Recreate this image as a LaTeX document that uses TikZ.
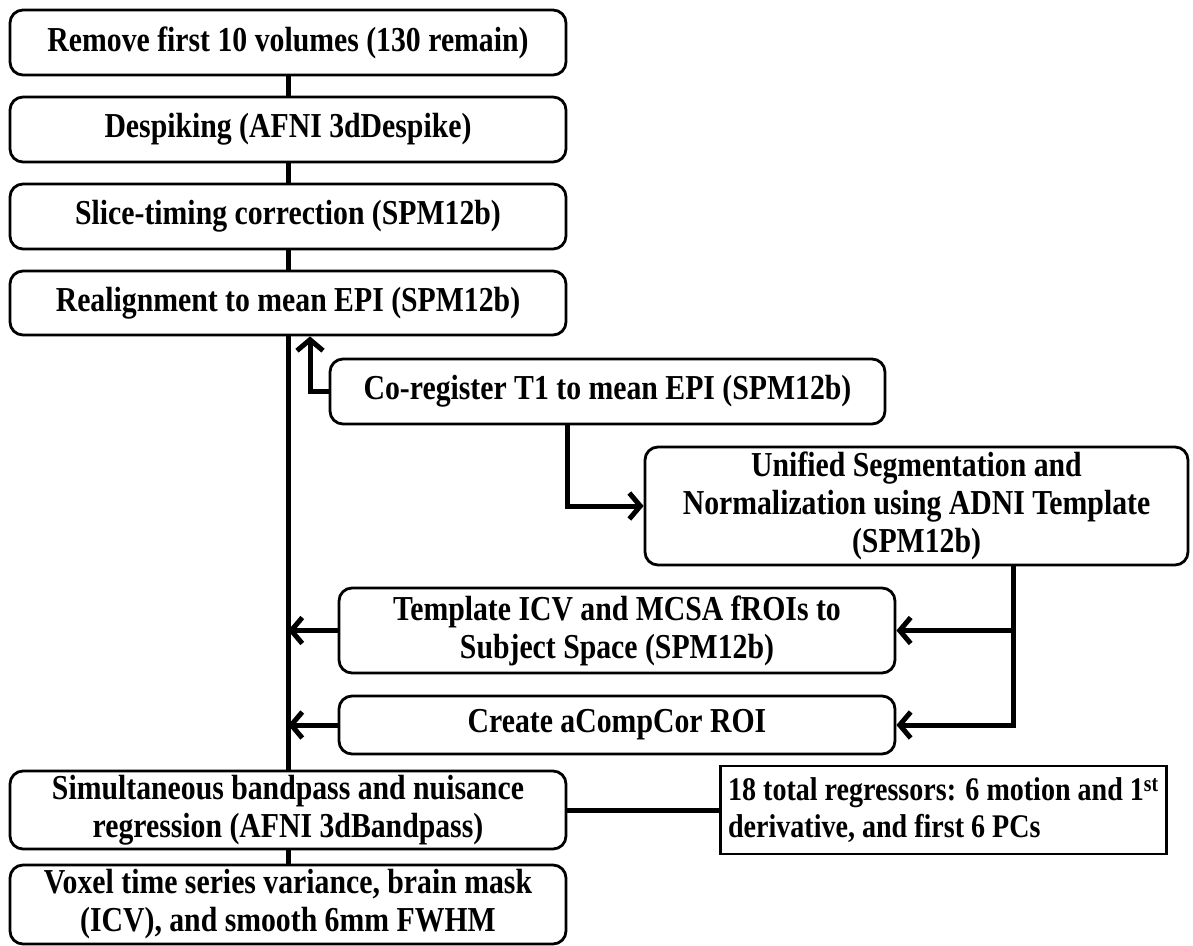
\documentclass[tikz,border=0pt]{standalone}
\usepackage{fontspec}
\setmainfont{Liberation Serif}[FakeStretch=0.85]
\usetikzlibrary{arrows.meta}

\tikzset{
	proc/.style={draw, line width=2.8pt, rounded corners=13pt, align=center, inner sep=4pt,
		font=\fontsize{35}{38}\selectfont\bfseries},
	note/.style={draw, line width=2.8pt, align=left, inner sep=8pt,
		font=\fontsize{33}{37}\selectfont\bfseries},
	link/.style={line width=5pt},
	flow/.style={link, -{Straight Barb[length=11pt,width=26pt]}},
}

\begin{document}
\begin{tikzpicture}[x=1pt, y=-1pt]
		\useasboundingbox (0,0) rectangle (1193,945);
		\node[proc, minimum width=556pt, minimum height=65pt] (remove) at (288,42.5) {Remove first 10 volumes (130 remain)};
		\node[proc, minimum width=556pt, minimum height=65pt] (despike) at (288,129.5) {Despiking (AFNI 3dDespike)};
		\node[proc, minimum width=556pt, minimum height=65pt] (slice) at (288,216.5) {Slice-timing correction (SPM12b)};
		\node[proc, minimum width=556pt, minimum height=64pt] (realign) at (288,303) {Realignment to mean EPI (SPM12b)};
		\node[proc, minimum width=555pt, minimum height=65pt] (coreg) at (607.5,391.5) {Co-register T1 to mean EPI (SPM12b)};
		\node[proc, minimum width=543pt, minimum height=118pt] (unified) at (916.5,506) {Unified Segmentation and\\ Normalization using ADNI Template\\ (SPM12b)};
		\node[proc, minimum width=556pt, minimum height=85pt] (template) at (617,630.5) {Template ICV and MCSA fROIs to\\ Subject Space (SPM12b)};
		\node[proc, minimum width=556pt, minimum height=58pt] (acomp) at (617,725) {Create aCompCor ROI};
		\node[proc, minimum width=556pt, minimum height=76pt] (simul) at (288,810) {Simultaneous bandpass and nuisance\\ regression (AFNI 3dBandpass)};
		\node[proc, minimum width=556pt, minimum height=79pt] (voxel) at (288,904.5) {Voxel time series variance, brain mask\\ (ICV), and smooth 6mm FWHM};
		\node[note, anchor=east, minimum height=88pt] (regs) at (1168,810) {18 total regressors: 6 motion and 1\textsuperscript{st}\\ derivative, and first 6 PCs};
		\draw[link] (remove) -- (despike);
		\draw[link] (despike) -- (slice);
		\draw[link] (slice) -- (realign);
		\draw[link] (realign) -- (simul);
		\draw[link] (simul) -- (voxel);
		\draw[flow] (coreg.west) -| ([xshift=22pt]realign.south);
		\draw[flow] (coreg.south -| realign.east) |- (unified.west);
		\path (unified.south) ++(96.5,0) coordinate (fork);
		\draw[flow] (fork) |- (template.east);
		\draw[flow] (fork) |- (acomp.east);
		\draw[flow] (template.west) -- (template.west -| realign.south);
		\draw[flow] (acomp.west) -- (acomp.west -| realign.south);
		\draw[link] (simul.east) -- (regs.west);
	\end{tikzpicture}
\end{document}
